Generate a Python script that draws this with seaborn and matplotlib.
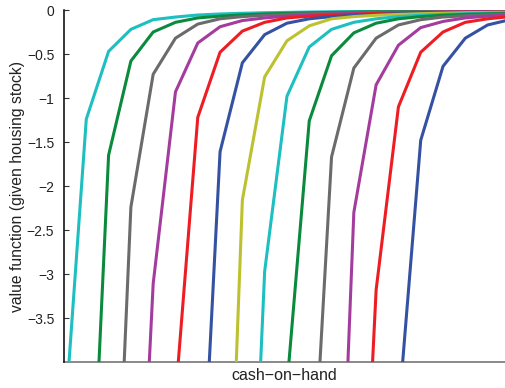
import numpy as np
import pandas as pd
import matplotlib
matplotlib.use("Agg")
import matplotlib.pyplot as plt
import seaborn as sns

# grid index of cash-on-hand where each curve's listed values begin
curve_start = [0, 1, 2, 3, 5, 6, 7, 8, 10, 11, 12, 13, 15]

v01 = [-4.80, -1.24, -0.47, -0.22, -0.11, -0.08, -0.057, -0.045, -0.037, -0.031, -0.027,
       -0.023, -0.020, -0.018, -0.016, -0.014, -0.013, -0.012, -0.011, -0.010, -0.009]
v02 = [-7.1, -1.65, -0.58, -0.25, -0.14, -0.09, -0.07, -0.055, -0.045, -0.038, -0.032,
       -0.028, -0.024, -0.021, -0.019, -0.017, -0.015, -0.014, -0.013, -0.012]
v03 = [-8.1, -2.24, -0.73, -0.32, -0.16, -0.10, -0.075, -0.06, -0.05, -0.042, -0.035,
       -0.030, -0.026, -0.023, -0.021, -0.019, -0.017, -0.016, -0.015]
v04 = [-8.2, -3.11, -0.93, -0.375, -0.19, -0.12, -0.09, -0.07, -0.057, -0.047, -0.040,
       -0.034, -0.030, -0.027, -0.024, -0.022, -0.020, -0.018]
v05 = [-4.40, -1.22, -0.48, -0.24, -0.14, -0.09, -0.07, -0.057, -0.047, -0.040, -0.034,
       -0.030, -0.027, -0.024, -0.022, -0.020]
v06 = [-6.55, -1.61, -0.60, -0.28, -0.15, -0.10, -0.075, -0.06, -0.05, -0.042, -0.036,
       -0.031, -0.028, -0.025, -0.023]
v07 = [-8.9, -2.16, -0.76, -0.35, -0.18, -0.10, -0.075, -0.06, -0.05, -0.042, -0.036,
       -0.031, -0.028, -0.025]
v08 = [-8.7, -2.97, -0.98, -0.42, -0.22, -0.14, -0.10, -0.075, -0.06, -0.05, -0.042,
       -0.036, -0.032]
v09 = [-4.27, -1.26, -0.52, -0.26, -0.15, -0.10, -0.075, -0.06, -0.05, -0.043, -0.037]
v10 = [-6.15, -1.67, -0.66, -0.32, -0.17, -0.11, -0.08, -0.065, -0.053, -0.045]
v11 = [-8.7, -2.30, -0.85, -0.40, -0.20, -0.13, -0.09, -0.07, -0.058]
v12 = [-8.3, -3.18, -1.10, -0.48, -0.25, -0.14, -0.10, -0.075]
v13 = [-4.59, -1.48, -0.64, -0.32, -0.17, -0.11]

curve_values = [v01, v02, v03, v04, v05, v06, v07, v08, v09, v10, v11, v12, v13]

line_colors = ["#1DBFC0", "#0A8A3C", "#6B6B6B", "#A43C9E", "#EE1D23", "#3451A2", "#BDC12F",
               "#1DBFC0", "#0A8A3C", "#6B6B6B", "#A43C9E", "#EE1D23", "#3451A2"]

y_ticks = [0, -0.5, -1, -1.5, -2, -2.5, -3, -3.5]
y_tick_labels = ["0", "\u22120.5", "\u22121", "\u22121.5", "\u22122", "\u22122.5", "\u22123", "\u22123.5"]

rows = []
for i, (s, vals) in enumerate(zip(curve_start, curve_values)):
    for j, v in enumerate(vals):
        rows.append({"curve": f"c{i:02d}", "x": s + j, "v": v})
df = pd.DataFrame(rows)

sns.set_style("white")
plt.rcParams["font.family"] = ["Liberation Sans", "DejaVu Sans"]

fig = plt.figure(figsize=(5.05, 3.88), dpi=100)
ax = fig.add_axes([64 / 505, 26 / 388, 1 - 64 / 505, 352 / 388])

palette = {f"c{i:02d}": c for i, c in enumerate(line_colors)}
sns.lineplot(data=df, x="x", y="v", hue="curve", palette=palette, estimator=None,
             sort=False, linewidth=2.2, legend=False, ax=ax)

ax.set_xlim(0, 19.78)
ax.set_ylim(-4, 0)
ax.set_xticks([])
ax.set_yticks(y_ticks)
ax.set_yticklabels(y_tick_labels, fontsize=10, color="#222222")
ax.tick_params(axis="y", direction="in", length=3.5, width=0.8, color="#333333", pad=7, left=True)
ax.set_xlabel("cash\u2212on\u2212hand", fontsize=11.5, color="#222222", labelpad=4)
ax.set_ylabel("value function (given housing stock)", fontsize=11.3, color="#222222", labelpad=1)

for side in ["top", "right"]:
    ax.spines[side].set_visible(False)
ax.spines["left"].set_color("#000000")
ax.spines["left"].set_linewidth(1.1)
ax.spines["bottom"].set_color("#808080")
ax.spines["bottom"].set_linewidth(1.3)
ax.spines["bottom"].set_zorder(0.5)

fig.savefig("out.png", dpi=100)
